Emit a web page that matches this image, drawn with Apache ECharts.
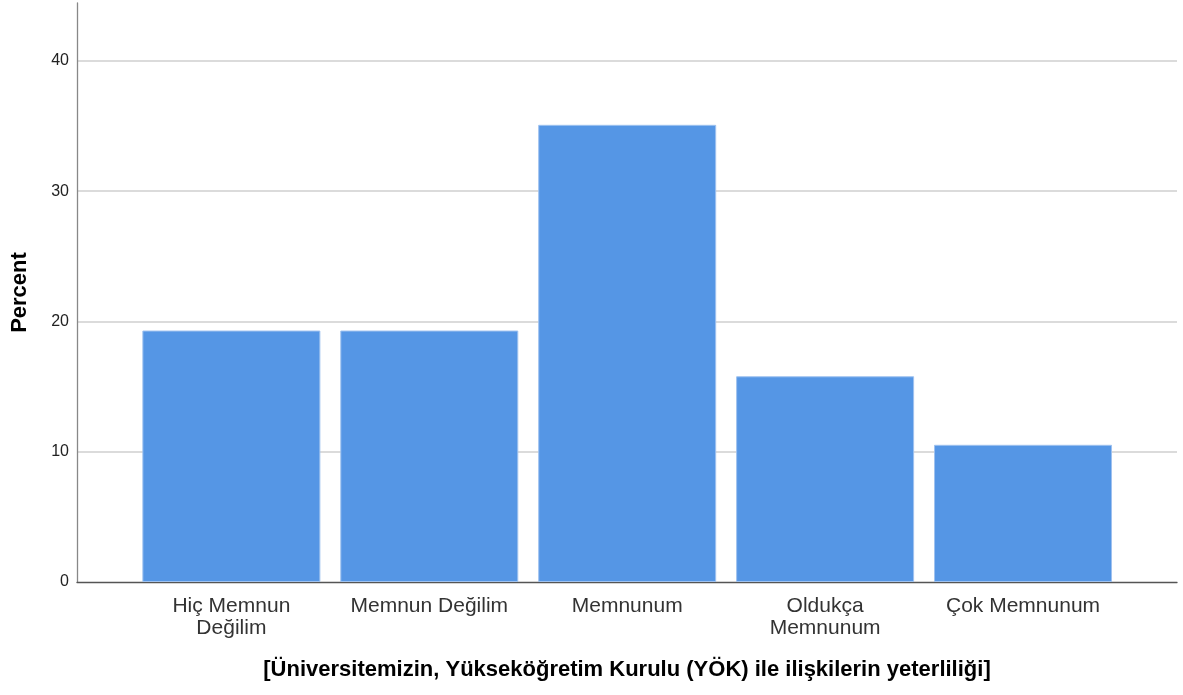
<!DOCTYPE html>
<html>
<head>
<meta charset="utf-8">
<script src="https://cdn.jsdelivr.net/npm/echarts@6/dist/echarts.min.js"></script>
<style>
html,body{margin:0;padding:0;background:#fff;}
#chart{width:1183px;height:695px;}
</style>
</head>
<body>
<div id="chart"></div>
<script>
const categories = ["Hiç Memnun\nDeğilim", "Memnun Değilim", "Memnunum", "Oldukça\nMemnunum", "Çok Memnunum"];
const percents = [19.30, 19.30, 35.09, 15.79, 10.53];
const yTicks = [0, 10, 20, 30, 40];
const xTitle = "[Üniversitemizin, Yükseköğretim Kurulu (YÖK) ile ilişkilerin yeterliliği]";
const yTitle = "Percent";

const chart = echarts.init(document.getElementById('chart'), null, {renderer: 'canvas'});
const font = 'Liberation Sans, Arial, sans-serif';
chart.setOption({
  animation: false,
  backgroundColor: '#ffffff',
  grid: {left: 77, right: 6, top: 3, bottom: 113, containLabel: false, outerBoundsMode: 'none'},
  xAxis: {
    type: 'value',
    min: -0.78,
    max: 4.778,
    name: xTitle,
    nameLocation: 'middle',
    nameGap: 77,
    nameTextStyle: {fontFamily: font, fontSize: 22, fontWeight: 'bold', color: '#000'},
    axisLine: {show: true, onZero: false, lineStyle: {color: '#555', width: 1.3}},
    axisTick: {show: false},
    splitLine: {show: false},
    axisLabel: {
      customValues: categories.map((c, i) => i),
      formatter: v => categories[Math.round(v)] || '',
      fontFamily: font, fontSize: 21, color: '#333', lineHeight: 22, margin: 13
    }
  },
  yAxis: {
    type: 'value',
    min: 0,
    max: 44.44,
    interval: 10,
    name: yTitle,
    nameLocation: 'middle',
    nameGap: 46,
    nameRotate: 90,
    nameTextStyle: {fontFamily: font, fontSize: 22, fontWeight: 'bold', color: '#000'},
    axisLine: {show: true, onZero: false, lineStyle: {color: '#888', width: 1.3}},
    axisTick: {show: false},
    axisLabel: {
      customValues: yTicks,
      fontFamily: font, fontSize: 16, color: '#222', margin: 8
    },
    splitLine: {show: true, showMinLine: false, showMaxLine: false, lineStyle: {color: '#cfcfcf', width: 1.5}}
  },
  series: [{
    type: 'bar',
    data: percents.map((v, i) => [i, v]),
    barWidth: 178,
    itemStyle: {color: '#5596e5', borderColor: '#9fc2ef', borderWidth: 1},
    z: 3
  }]
});
</script>
</body>
</html>
